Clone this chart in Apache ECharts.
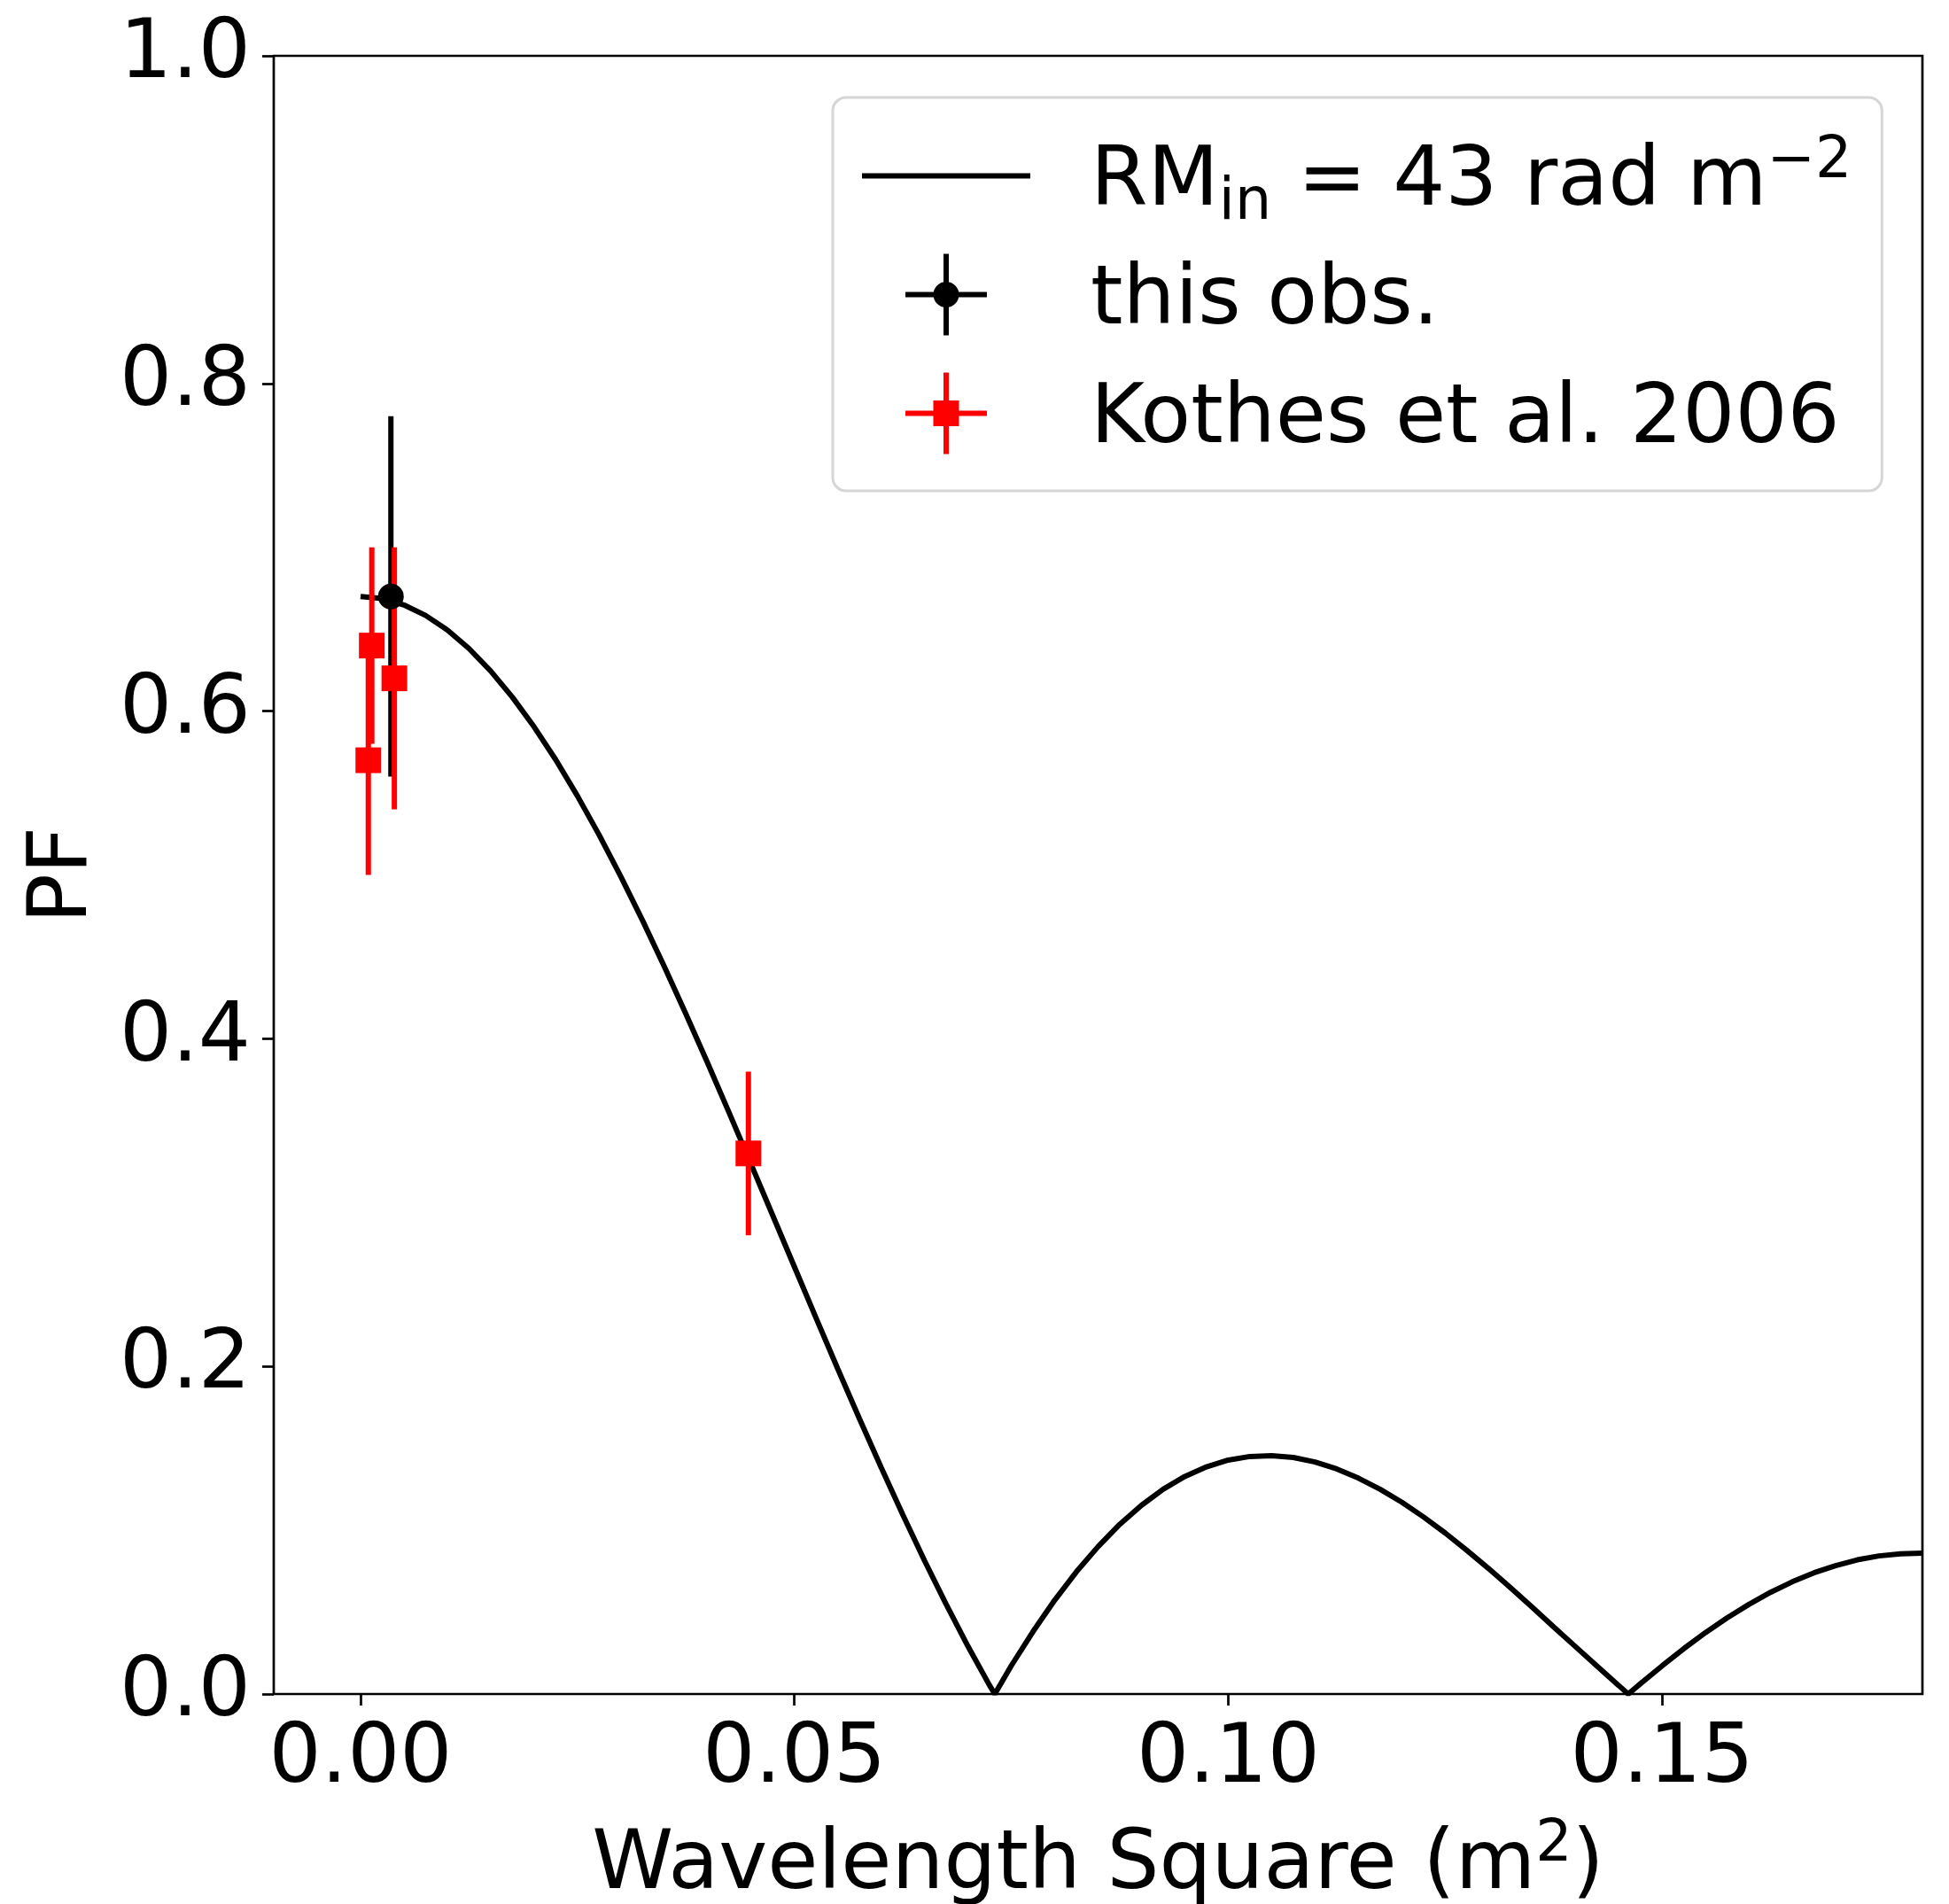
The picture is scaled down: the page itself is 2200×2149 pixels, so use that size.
<!DOCTYPE html>
<html>
<head>
<meta charset="utf-8">
<script src="https://cdn.jsdelivr.net/npm/echarts@6/dist/echarts.min.js"></script>
<style>
  html, body { margin: 0; padding: 0; background: #fff; }
  #chart { width: 2200px; height: 2149px; }
</style>
</head>
<body>
<div id="chart"></div>
<script>
// depolarisation curve (lambda^2 in m^2, PF)
const curveX = [
  0, 0.0025, 0.005, 0.0075, 0.01, 0.0125, 0.015, 0.0175, 0.02, 0.0225,
  0.025, 0.0275, 0.03, 0.0325, 0.035, 0.0375, 0.04, 0.0425, 0.045, 0.0475,
  0.05, 0.0525, 0.055, 0.0575, 0.06, 0.0625, 0.065, 0.0675, 0.07, 0.0725,
  0.0731, 0.075, 0.0775, 0.08, 0.0825, 0.085, 0.0875, 0.09, 0.0925, 0.095,
  0.0975, 0.1, 0.1025, 0.105, 0.1075, 0.11, 0.1125, 0.115, 0.1175, 0.12,
  0.1225, 0.125, 0.1275, 0.13, 0.1325, 0.135, 0.1375, 0.14, 0.1425, 0.145,
  0.1461, 0.1475, 0.15, 0.1525, 0.155, 0.1575, 0.16, 0.1625, 0.165, 0.1675,
  0.17, 0.1725, 0.175, 0.1775, 0.18
];
const curveY = [
  0.670, 0.6687, 0.6648, 0.6584, 0.6495, 0.6382, 0.6245, 0.6085, 0.5904, 0.5703,
  0.5482, 0.5244, 0.4990, 0.4722, 0.4442, 0.4151, 0.3852, 0.3546, 0.3235, 0.2922,
  0.2608, 0.2295, 0.1985, 0.1681, 0.1383, 0.1094, 0.0814, 0.0547, 0.0292, 0.0052,
  0, 0.0173, 0.0381, 0.0573, 0.0746, 0.0900, 0.1036, 0.1152, 0.1250, 0.1328,
  0.1387, 0.1428, 0.1450, 0.1455, 0.1444, 0.1416, 0.1374, 0.1318, 0.1250, 0.1171,
  0.1081, 0.0983, 0.0877, 0.0766, 0.0650, 0.0531, 0.0410, 0.0290, 0.0170, 0.0052,
  0, 0.0063, 0.0172, 0.0277, 0.0375, 0.0465, 0.0547, 0.0621, 0.0685, 0.0740,
  0.0784, 0.0819, 0.0843, 0.0856, 0.0860
];

// this observation
const obsX = [0.0035];
const obsY = [0.67];
const obsErr = [0.11];

// Kothes et al. 2006
const kothesX = [0.0009, 0.0013, 0.0039, 0.0447];
const kothesY = [0.57, 0.64, 0.62, 0.33];
const kothesErr = [0.07, 0.06, 0.08, 0.05];

const xTicks = [0, 0.05, 0.10, 0.15];

const FONT = "DejaVu Sans";
const CURVE_NAME = "RMin";
const OBS_NAME = "this obs.";
const KOTHES_NAME = "Kothes et al. 2006";

const chart = echarts.init(document.getElementById("chart"), null, { renderer: "canvas" });

function errBars(color) {
  return function (params, api) {
    const lo = api.coord([api.value(0), api.value(1)]);
    const hi = api.coord([api.value(0), api.value(2)]);
    return {
      type: "line",
      shape: { x1: lo[0], y1: lo[1], x2: hi[0], y2: hi[1] },
      style: { stroke: color, lineWidth: 6 }
    };
  };
}

const ICON_LINE = "path://M0 0h190v6h-190Z";
const ICON_OBS = "path://M43 0h6v92h-6Z M0 43h92v6h-92Z M31.5 46A14.5 14.5 0 1 1 60.5 46A14.5 14.5 0 1 1 31.5 46Z";
const ICON_KOTHES = "path://M43 0h6v92h-6Z M0 43h92v6h-92Z M31.5 31.5h29v29h-29Z";

chart.setOption({
  animation: false,
  backgroundColor: "#fff",
  grid: {
    left: 309, top: 63, right: 30, bottom: 237,
    show: true, borderColor: "#000", borderWidth: 2.7,
    containLabel: false, outerBoundsMode: "none"
  },
  xAxis: {
    type: "value",
    min: -0.01,
    max: 0.18,
    name: "{a|Wavelength Square (m}{s|2}{a|)}",
    nameLocation: "middle",
    nameGap: 148,
    nameMoveOverlap: false,
    nameTextStyle: {
      fontFamily: FONT, fontSize: 93, color: "#000",
      rich: {
        a: { fontFamily: FONT, fontSize: 93, lineHeight: 93, color: "#000" },
        s: { fontFamily: FONT, fontSize: 65, lineHeight: 40, padding: [0, 0, 47, 0], color: "#000" }
      }
    },
    axisLine: { show: false, onZero: false },
    splitLine: { show: false },
    axisTick: {
      show: true, length: 13, customValues: xTicks,
      lineStyle: { color: "#000", width: 2.7 }
    },
    axisLabel: {
      customValues: xTicks,
      margin: 28,
      fontFamily: FONT, fontSize: 93, color: "#000",
      formatter: v => v.toFixed(2)
    }
  },
  yAxis: {
    type: "value",
    min: 0,
    max: 1,
    interval: 0.2,
    name: "PF",
    nameLocation: "middle",
    nameRotate: 90,
    nameGap: 190,
    nameMoveOverlap: false,
    nameTextStyle: { fontFamily: FONT, fontSize: 93, color: "#000" },
    axisLine: { show: false, onZero: false },
    splitLine: { show: false },
    axisTick: { show: true, length: 13, lineStyle: { color: "#000", width: 2.7 } },
    axisLabel: {
      margin: 26,
      padding: [6, 0, 0, 0],
      fontFamily: FONT, fontSize: 93, color: "#000",
      formatter: v => v.toFixed(1)
    }
  },
  legend: {
    orient: "vertical",
    left: 940,
    top: 110,
    padding: [41, 34, 23, 33],
    itemWidth: 190,
    itemHeight: 92,
    itemGap: 22,
    selectedMode: false,
    backgroundColor: "#fff",
    borderColor: "#d6d6d6",
    borderWidth: 3,
    borderRadius: 15,
    itemStyle: { borderWidth: 0 },
    data: [
      { name: CURVE_NAME, icon: ICON_LINE },
      { name: OBS_NAME, icon: ICON_OBS },
      { name: KOTHES_NAME, icon: ICON_KOTHES }
    ],
    // every row gets the same token structure so the rows share one height
    formatter: name => name === CURVE_NAME
      ? "{n|RM}{sub|in}{n| = 43 rad m}{sup|\u22122}"
      : "{n|" + name + "}{sub|\u200b}",
    textStyle: {
      fontFamily: FONT, fontSize: 93, color: "#000",
      padding: [17, 0, 0, 63],
      rich: {
        n: { fontFamily: FONT, fontSize: 93, lineHeight: 112, color: "#000" },
        sub: { fontFamily: FONT, fontSize: 65, lineHeight: 112, padding: [47, 0, 0, 0], color: "#000" },
        sup: { fontFamily: FONT, fontSize: 65, lineHeight: 112, padding: [0, 0, 47, 0], color: "#000" }
      }
    }
  },
  series: [
    {
      name: CURVE_NAME,
      type: "line",
      data: curveX.map((x, i) => [x, curveY[i]]),
      showSymbol: false,
      symbol: "none",
      lineStyle: { color: "#000", width: 6 },
      itemStyle: { color: "#000" },
      z: 2
    },
    {
      name: "obs-err",
      type: "custom",
      renderItem: errBars("#000"),
      encode: { x: 0, y: [1, 2] },
      data: obsX.map((x, i) => [x, obsY[i] - obsErr[i], obsY[i] + obsErr[i]]),
      clip: false,
      z: 3
    },
    {
      name: "kothes-err",
      type: "custom",
      renderItem: errBars("#ff0000"),
      encode: { x: 0, y: [1, 2] },
      data: kothesX.map((x, i) => [x, kothesY[i] - kothesErr[i], kothesY[i] + kothesErr[i]]),
      clip: false,
      z: 4
    },
    {
      name: KOTHES_NAME,
      type: "scatter",
      symbol: "rect",
      symbolSize: 29,
      data: kothesX.map((x, i) => [x, kothesY[i]]),
      itemStyle: { color: "#ff0000", opacity: 1 },
      z: 5
    },
    {
      name: OBS_NAME,
      type: "scatter",
      symbol: "circle",
      symbolSize: 29,
      data: obsX.map((x, i) => [x, obsY[i]]),
      itemStyle: { color: "#000", opacity: 1 },
      z: 6
    }
  ]
});

window.addEventListener("resize", () => chart.resize());
</script>
</body>
</html>
